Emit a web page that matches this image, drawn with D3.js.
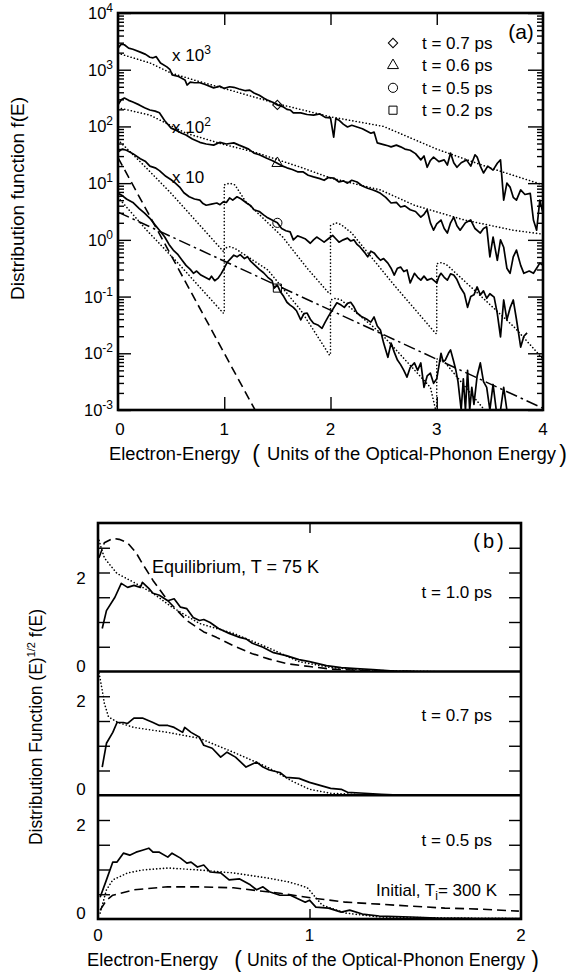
<!DOCTYPE html>
<html>
<head>
<meta charset="utf-8">
<script src="https://cdn.jsdelivr.net/npm/d3@7"></script>
<style>
body { margin: 0; background: #fff; }
svg text { font-family: "Liberation Sans", Arial, Helvetica, sans-serif; fill: #000; }
</style>
</head>
<body>
<svg id="fig" width="569" height="972"></svg>
<script>
// ---------- panel (a): [energy, log10 f(E)] ----------
var a07 = [[0,3.38],[0.03,3.45],[0.06,3.44],[0.1,3.38],[0.14,3.36],[0.21,3.31],[0.26,3.27],[0.3,3.22],[0.33,3.21],[0.36,3.23],[0.4,3.12],[0.46,3.05],[0.49,3.0],[0.51,2.91],[0.57,2.88],[0.63,2.82],[0.65,2.73],[0.68,2.78],[0.72,2.77],[0.77,2.77],[0.82,2.74],[0.9,2.68],[0.96,2.71],[1.0,2.67],[1.05,2.7],[1.09,2.69],[1.14,2.66],[1.2,2.63],[1.24,2.64],[1.28,2.59],[1.33,2.55],[1.37,2.5],[1.4,2.47],[1.45,2.43],[1.5,2.38],[1.55,2.35],[1.59,2.3],[1.62,2.29],[1.65,2.24],[1.72,2.24],[1.78,2.21],[1.84,2.2],[1.9,2.22],[1.95,2.16],[2.0,2.15],[2.03,1.81],[2.05,2.14],[2.08,2.11],[2.12,2.04],[2.16,1.99],[2.2,2.02],[2.25,1.99],[2.3,1.96],[2.34,1.92],[2.38,1.88],[2.41,1.9],[2.44,1.71],[2.5,1.68],[2.54,1.66],[2.57,1.64],[2.62,1.67],[2.66,1.64],[2.7,1.6],[2.75,1.58],[2.8,1.52],[2.85,1.41],[2.88,1.48],[2.91,1.28],[2.94,1.4],[2.97,1.46],[3.02,1.38],[3.07,1.41],[3.1,1.32],[3.13,1.53],[3.16,1.36],[3.19,1.28],[3.23,1.36],[3.28,1.41],[3.32,1.3],[3.36,1.5],[3.38,1.46],[3.41,1.3],[3.44,1.18],[3.48,1.3],[3.53,1.23],[3.57,1.35],[3.6,1.41],[3.63,0.7],[3.66,1.0],[3.69,0.93],[3.72,0.75],[3.75,0.7],[3.79,0.88],[3.83,0.8],[3.88,0.82],[3.91,0.35],[3.94,0.17],[3.97,0.7],[4.0,0.47]];
var a07fit = [[0,3.29],[0.3,3.12],[0.5,2.94],[0.75,2.8],[1.0,2.67],[1.5,2.4],[2.0,2.17],[2.5,2.0],[3.0,1.6],[3.5,1.27],[4.0,0.97]];

var a06 = [[0,2.38],[0.03,2.47],[0.06,2.5],[0.1,2.46],[0.14,2.43],[0.2,2.38],[0.25,2.33],[0.3,2.29],[0.35,2.27],[0.39,2.24],[0.44,2.1],[0.5,1.97],[0.55,1.93],[0.6,1.88],[0.64,1.85],[0.7,1.78],[0.77,1.72],[0.83,1.69],[0.9,1.67],[0.96,1.72],[1.02,1.69],[1.09,1.71],[1.14,1.67],[1.18,1.64],[1.23,1.6],[1.28,1.53],[1.33,1.5],[1.4,1.44],[1.45,1.4],[1.5,1.35],[1.55,1.3],[1.59,1.27],[1.64,1.24],[1.69,1.2],[1.74,1.2],[1.79,1.14],[1.84,1.11],[1.9,1.08],[1.94,1.05],[1.98,1.1],[2.03,1.09],[2.08,1.02],[2.12,1.04],[2.16,1.0],[2.2,1.05],[2.25,1.02],[2.3,0.95],[2.35,0.91],[2.4,0.88],[2.44,0.85],[2.47,0.82],[2.52,0.75],[2.57,0.65],[2.62,0.66],[2.66,0.58],[2.7,0.6],[2.75,0.53],[2.8,0.5],[2.85,0.4],[2.88,0.45],[2.91,0.53],[2.94,0.3],[2.97,0.17],[3.0,0.28],[3.04,0.35],[3.07,0.2],[3.1,0.12],[3.13,0.3],[3.16,0.4],[3.19,0.25],[3.22,0.17],[3.27,0.3],[3.32,0.35],[3.36,0.2],[3.41,0.12],[3.44,0.2],[3.47,0.23],[3.5,-0.3],[3.53,0.05],[3.57,-0.36],[3.6,0.0],[3.63,-0.13],[3.66,-0.5],[3.69,-0.59],[3.72,-0.3],[3.75,-0.18],[3.79,-0.45],[3.82,-0.59],[3.87,-0.55],[3.91,-0.59],[3.94,-0.5],[3.97,-0.41],[4.0,-0.45]];
var a06fit = [[0,2.33],[0.3,2.2],[0.64,1.88],[1.0,1.68],[1.28,1.55],[1.72,1.28],[2.0,1.09],[2.47,0.88],[2.79,0.61],[3.26,0.35],[3.72,0.17],[4.0,0.1]];

var a05 = [[0,1.55],[0.04,1.6],[0.08,1.58],[0.14,1.52],[0.21,1.43],[0.26,1.38],[0.3,1.3],[0.35,1.27],[0.39,1.22],[0.45,1.12],[0.5,1.06],[0.54,1.0],[0.58,0.93],[0.62,0.83],[0.67,0.76],[0.72,0.72],[0.77,0.7],[0.8,0.64],[0.83,0.61],[0.88,0.63],[0.93,0.65],[0.96,0.62],[0.99,0.67],[1.02,0.66],[1.05,0.74],[1.08,0.7],[1.12,0.76],[1.16,0.72],[1.21,0.65],[1.25,0.6],[1.28,0.53],[1.33,0.5],[1.37,0.44],[1.4,0.4],[1.45,0.35],[1.5,0.3],[1.54,0.2],[1.58,0.16],[1.62,0.14],[1.65,0.0],[1.69,0.07],[1.72,0.05],[1.76,0.02],[1.81,-0.06],[1.84,0.0],[1.87,0.05],[1.91,0.0],[1.94,-0.04],[1.98,0.02],[2.02,0.08],[2.05,0.02],[2.08,-0.04],[2.12,0.0],[2.16,0.03],[2.19,-0.02],[2.22,0.0],[2.25,-0.08],[2.28,-0.13],[2.32,-0.22],[2.35,-0.3],[2.38,-0.2],[2.41,-0.23],[2.44,-0.3],[2.47,-0.36],[2.5,-0.33],[2.54,-0.41],[2.57,-0.5],[2.6,-0.62],[2.63,-0.5],[2.66,-0.48],[2.69,-0.56],[2.72,-0.53],[2.75,-0.76],[2.79,-0.59],[2.82,-0.66],[2.85,-0.71],[2.88,-0.64],[2.91,-0.71],[2.95,-0.68],[3.0,-0.76],[3.02,-0.65],[3.04,-0.59],[3.07,-0.66],[3.1,-0.71],[3.13,-0.6],[3.16,-0.62],[3.19,-0.7],[3.22,-0.83],[3.26,-0.95],[3.29,-1.19],[3.32,-1.0],[3.35,-0.97],[3.38,-0.83],[3.41,-0.97],[3.44,-0.9],[3.47,-1.03],[3.5,-0.95],[3.54,-1.01],[3.57,-1.3],[3.6,-1.71],[3.63,-1.06],[3.66,-1.41],[3.69,-1.2],[3.72,-1.06],[3.75,-1.4],[3.79,-1.89],[3.82,-1.7],[3.85,-1.64]];
var a05fit = [[0,1.76],[0.1,1.58],[0.25,1.3],[0.5,0.82],[0.75,0.3],[0.99,-0.2],[1.0,-0.2],[1.0,0.97],[1.05,1.0],[1.1,0.97],[1.2,0.68],[1.55,0.05],[1.78,-0.5],[1.99,-0.95],[2.0,-0.95],[2.0,0.25],[2.05,0.3],[2.1,0.27],[2.2,0.12],[2.6,-0.8],[2.99,-1.65],[3.0,-1.65],[3.0,-0.42],[3.05,-0.4],[3.1,-0.45],[3.42,-1.0],[3.73,-1.54],[4.0,-2.1]];

var a02 = [[0,0.82],[0.04,0.78],[0.08,0.72],[0.14,0.66],[0.2,0.55],[0.25,0.47],[0.3,0.38],[0.35,0.26],[0.39,0.17],[0.44,0.05],[0.48,-0.08],[0.52,-0.18],[0.56,-0.25],[0.6,-0.35],[0.64,-0.45],[0.68,-0.52],[0.71,-0.59],[0.74,-0.55],[0.78,-0.62],[0.82,-0.66],[0.86,-0.7],[0.88,-0.64],[0.91,-0.72],[0.94,-0.68],[0.97,-0.6],[1.0,-0.5],[1.03,-0.39],[1.06,-0.33],[1.09,-0.27],[1.12,-0.3],[1.15,-0.26],[1.19,-0.33],[1.22,-0.3],[1.25,-0.38],[1.29,-0.45],[1.33,-0.52],[1.37,-0.58],[1.41,-0.66],[1.45,-0.72],[1.47,-0.85],[1.5,-0.8],[1.53,-0.92],[1.56,-1.0],[1.59,-1.1],[1.62,-1.15],[1.65,-1.19],[1.68,-1.25],[1.72,-1.41],[1.75,-1.3],[1.78,-1.29],[1.81,-1.4],[1.84,-1.47],[1.88,-1.5],[1.92,-1.56],[1.95,-1.45],[1.98,-1.35],[2.0,-1.29],[2.03,-1.2],[2.06,-1.11],[2.1,-1.15],[2.13,-1.19],[2.16,-1.12],[2.19,-1.1],[2.22,-1.18],[2.25,-1.29],[2.29,-1.35],[2.32,-1.38],[2.35,-1.41],[2.38,-1.45],[2.41,-1.36],[2.44,-1.52],[2.47,-1.59],[2.5,-1.82],[2.54,-2.07],[2.57,-1.82],[2.6,-1.98],[2.63,-2.12],[2.66,-2.2],[2.69,-2.3],[2.72,-2.42],[2.75,-2.25],[2.79,-2.17],[2.82,-2.3],[2.85,-2.17],[2.88,-2.6],[2.91,-2.4],[2.94,-2.35],[2.97,-2.53],[3.0,-2.45],[3.04,-2.0],[3.06,-2.15],[3.08,-2.12],[3.11,-2.0],[3.13,-1.94],[3.16,-2.15],[3.18,-2.3],[3.2,-2.5],[3.23,-3.0],[3.25,-2.45],[3.27,-3.0],[3.29,-2.3],[3.31,-3.0],[3.33,-2.6],[3.35,-2.9],[3.38,-2.4],[3.41,-2.17],[3.44,-2.5],[3.47,-2.6],[3.5,-3.0],[3.53,-2.55],[3.56,-3.0],[3.6,-3.0],[3.63,-2.6],[3.66,-3.0]];
var a02fit = [[0,0.75],[0.27,0.17],[0.56,-0.4],[0.99,-1.29],[1.0,-1.29],[1.0,-0.15],[1.05,-0.12],[1.1,-0.15],[1.41,-0.53],[1.72,-1.24],[1.99,-2.03],[2.0,-2.03],[2.0,-1.06],[2.05,-1.03],[2.1,-1.06],[2.47,-1.64],[2.94,-2.6],[2.99,-3.0],[3.0,-3.0],[3.0,-2.1],[3.05,-2.1],[3.45,-3.0]];

var aSteep = [[0,1.45],[1.29,-3.0]];      // dashed
var aSlow = [[0,0.49],[4,-2.97]];         // dash-dot

var legendLabels = ["t = 0.7 ps", "t = 0.6 ps", "t = 0.5 ps", "t = 0.2 ps"];
var legendShapes = ["diamond", "triangle", "circle", "square"];
var markerE = [1.5, 1.5, 1.5, 1.5];
var markerLog = [2.38, 1.35, 0.3, -0.85];
var scaleNotes = [["x 10", "3"], ["x 10", "2"], ["x 10", ""]];
var scaleNoteLog = [3.26, 1.99, 1.11];
var decadeTicks = [-3, -2, -1, 0, 1, 2, 3, 4];
var energyTicksA = [0, 1, 2, 3, 4];

// ---------- panel (b): [energy, (E)^1/2 f(E)] ----------
var b10Solid = [[0.02,0.87],[0.04,1.23],[0.08,1.5],[0.11,1.78],[0.14,1.7],[0.17,1.74],[0.2,1.7],[0.21,1.8],[0.24,1.68],[0.26,1.58],[0.29,1.54],[0.33,1.43],[0.36,1.47],[0.39,1.3],[0.42,1.27],[0.45,1.09],[0.48,1.03],[0.5,1.05],[0.53,0.99],[0.57,0.87],[0.62,0.77],[0.67,0.69],[0.7,0.66],[0.73,0.57],[0.78,0.49],[0.83,0.38],[0.89,0.32],[0.95,0.24],[1.0,0.2],[1.08,0.12],[1.15,0.08],[1.22,0.06],[1.3,0.04],[1.4,0.01],[1.5,0.0]];
var b10Dotted = [[0.005,2.65],[0.015,2.5],[0.03,2.3],[0.04,2.24],[0.09,1.98],[0.17,1.8],[0.26,1.58],[0.35,1.3],[0.48,0.97],[0.64,0.77],[0.8,0.49],[0.95,0.2],[1.1,0.08],[1.25,0.03],[1.4,0.01],[1.6,0.0]];
var b10Dashed = [[0.005,2.3],[0.03,2.6],[0.07,2.69],[0.1,2.67],[0.14,2.6],[0.18,2.4],[0.21,2.18],[0.26,1.84],[0.33,1.43],[0.42,1.03],[0.5,0.8],[0.56,0.69],[0.65,0.5],[0.73,0.36],[0.81,0.25],[0.89,0.16],[1.0,0.1],[1.1,0.05],[1.2,0.03],[1.35,0.01],[1.5,0.0]];

var b07Solid = [[0.02,0.57],[0.04,1.05],[0.07,1.27],[0.09,1.47],[0.12,1.47],[0.14,1.45],[0.17,1.56],[0.21,1.56],[0.26,1.47],[0.29,1.41],[0.33,1.41],[0.36,1.37],[0.4,1.27],[0.41,1.37],[0.44,1.27],[0.48,1.17],[0.5,1.01],[0.54,0.95],[0.58,0.77],[0.61,0.87],[0.65,0.77],[0.7,0.57],[0.75,0.67],[0.78,0.57],[0.81,0.51],[0.86,0.46],[0.89,0.36],[0.95,0.34],[1.0,0.26],[1.05,0.2],[1.1,0.14],[1.15,0.12],[1.18,0.06],[1.26,0.04],[1.34,0.02],[1.45,0.0]];
var b07Dotted = [[0.005,2.47],[0.02,2.12],[0.03,1.86],[0.05,1.58],[0.095,1.47],[0.17,1.37],[0.33,1.27],[0.48,1.15],[0.64,0.87],[0.8,0.57],[0.92,0.28],[1.0,0.12],[1.1,0.04],[1.25,0.01],[1.4,0.0]];

var b05Solid = [[0.01,0.44],[0.04,0.79],[0.07,1.15],[0.09,1.15],[0.12,1.33],[0.15,1.29],[0.18,1.35],[0.21,1.39],[0.24,1.43],[0.26,1.35],[0.29,1.35],[0.33,1.25],[0.35,1.33],[0.39,1.23],[0.42,1.13],[0.44,1.15],[0.47,1.05],[0.5,1.09],[0.53,0.95],[0.58,0.93],[0.62,0.79],[0.67,0.81],[0.72,0.69],[0.75,0.59],[0.78,0.65],[0.81,0.55],[0.86,0.48],[0.91,0.48],[0.95,0.4],[0.98,0.34],[1.0,0.38],[1.03,0.24],[1.09,0.22],[1.15,0.14],[1.19,0.18],[1.25,0.1],[1.33,0.06],[1.48,0.04],[1.6,0.02],[1.8,0.01],[2.0,0.01]];
var b05Dotted = [[0.01,0.12],[0.04,0.59],[0.07,0.79],[0.14,0.93],[0.21,0.99],[0.33,1.03],[0.48,0.99],[0.64,0.93],[0.8,0.83],[0.9,0.75],[0.95,0.69],[0.99,0.63],[1.02,0.48],[1.06,0.28],[1.17,0.12],[1.33,0.04],[1.65,0.02],[2.0,0.01]];
var b05Dashed = [[0.01,0.18],[0.04,0.38],[0.07,0.48],[0.17,0.59],[0.33,0.65],[0.48,0.65],[0.64,0.63],[0.8,0.55],[0.86,0.52],[1.02,0.42],[1.17,0.34],[1.33,0.3],[1.48,0.26],[1.64,0.22],[1.8,0.2],[1.99,0.16]];

var bMax = [3, 2.5, 2.5];
var bTimes = ["t = 1.0 ps", "t = 0.7 ps", "t = 0.5 ps"];
var energyTicksB = [0, 1, 2];

// ---------- drawing ----------
var svg = d3.select("#fig");
var defs = svg.append("defs");

function styleKind(sel, kind) {
  sel.attr("fill", "none").attr("stroke", "#000").attr("stroke-linejoin", "round");
  if (kind === "solid") sel.attr("stroke-width", 1.7);
  if (kind === "dotted") sel.attr("stroke-width", 1.6).attr("stroke-linecap", "round").attr("stroke-dasharray", "0.1,3.3");
  if (kind === "dashed") sel.attr("stroke-width", 1.6).attr("stroke-dasharray", "9,5");
  if (kind === "dashdot") sel.attr("stroke-width", 1.5).attr("stroke-dasharray", "12,4,2.5,4");
  return sel;
}

function markerPath(shape) {
  if (shape === "diamond") return d3.symbol(d3.symbolSquare, 44)();
  if (shape === "triangle") return d3.symbol(d3.symbolTriangle, 52)();
  if (shape === "circle") return d3.symbol(d3.symbolCircle, 66)();
  return d3.symbol(d3.symbolSquare, 66)();
}

// ===== panel (a) =====
var pa = {left: 118, right: 543, top: 13, bottom: 410};
var xA = d3.scaleLinear().domain([0, 4]).range([pa.left, pa.right]);
var yA = d3.scaleLog().domain([1e-3, 1e4]).range([pa.bottom, pa.top]);
var lineA = d3.line().x(function(d) { return xA(d[0]); }).y(function(d) { return yA(Math.pow(10, d[1])); });

defs.append("clipPath").attr("id", "clipA").append("rect")
  .attr("x", pa.left).attr("y", pa.top).attr("width", pa.right - pa.left).attr("height", pa.bottom - pa.top);

var gA = svg.append("g");
var curvesA = gA.append("g").attr("clip-path", "url(#clipA)");

[[a07, "solid"], [a07fit, "dotted"], [a06, "solid"], [a06fit, "dotted"],
 [a05, "solid"], [a05fit, "dotted"], [a02, "solid"], [a02fit, "dotted"],
 [aSteep, "dashed"], [aSlow, "dashdot"]].forEach(function(c) {
  styleKind(curvesA.append("path").datum(c[0]).attr("d", lineA), c[1]);
});

// markers on the curves
legendShapes.forEach(function(s, i) {
  gA.append("path").attr("d", markerPath(s))
    .attr("transform", "translate(" + xA(markerE[i]) + "," + yA(Math.pow(10, markerLog[i])) + ")" + (s === "diamond" ? " rotate(45)" : ""))
    .attr("fill", "none").attr("stroke", "#000").attr("stroke-width", 1);
});

// axes (inward ticks)
function noDomain(g) { g.select(".domain").remove(); g.selectAll("line").attr("stroke-width", 1.4); }
var majors = decadeTicks.map(function(d) { return Math.pow(10, d); });
var minors = yA.ticks().filter(function(v) { return Math.abs(Math.log10(v) - Math.round(Math.log10(v))) > 1e-6; });

gA.append("g").attr("transform", "translate(" + pa.left + ",0)")
  .call(d3.axisRight(yA).tickValues(majors).tickSize(13).tickSizeOuter(0).tickFormat("")).call(noDomain);
gA.append("g").attr("transform", "translate(" + pa.left + ",0)")
  .call(d3.axisRight(yA).tickValues(minors).tickSize(6).tickSizeOuter(0).tickFormat("")).call(noDomain);
gA.append("g").attr("transform", "translate(" + pa.right + ",0)")
  .call(d3.axisLeft(yA).tickValues(majors).tickSize(15).tickSizeOuter(0).tickFormat("")).call(noDomain);
gA.append("g").attr("transform", "translate(" + pa.right + ",0)")
  .call(d3.axisLeft(yA).tickValues(minors).tickSize(6).tickSizeOuter(0).tickFormat("")).call(noDomain);
gA.append("g").attr("transform", "translate(0," + pa.top + ")")
  .call(d3.axisBottom(xA).tickValues([1, 2, 3]).tickSize(12).tickSizeOuter(0).tickFormat("")).call(noDomain);
gA.append("g").attr("transform", "translate(0," + pa.bottom + ")")
  .call(d3.axisTop(xA).tickValues([1, 2, 3]).tickSize(13).tickSizeOuter(0).tickFormat("")).call(noDomain);

gA.append("rect").attr("x", pa.left).attr("y", pa.top)
  .attr("width", pa.right - pa.left).attr("height", pa.bottom - pa.top)
  .attr("fill", "none").attr("stroke", "#000").attr("stroke-width", 2.6);

// y tick labels 10^n
decadeTicks.forEach(function(d) {
  var t = gA.append("text").attr("x", pa.left - 5).attr("y", yA(Math.pow(10, d)) + 6)
    .attr("text-anchor", "end").attr("font-size", 16.5);
  t.append("tspan").text("10");
  t.append("tspan").attr("dy", -7).attr("font-size", 12).text(d < 0 ? "-" + (-d) : String(d));
});

// x tick labels
energyTicksA.forEach(function(e) {
  gA.append("text").attr("x", xA(e) + (e === 0 ? 2 : 0)).attr("y", 435)
    .attr("text-anchor", "middle").attr("font-size", 17).text(e);
});

// axis titles
gA.append("text").attr("x", 109).attr("y", 460).attr("font-size", 18)
  .attr("textLength", 131).attr("lengthAdjust", "spacingAndGlyphs").text("Electron-Energy");
gA.append("text").attr("x", 256).attr("y", 462).attr("text-anchor", "middle").attr("font-size", 23).text("(");
gA.append("text").attr("x", 267).attr("y", 460).attr("font-size", 18)
  .attr("textLength", 289).attr("lengthAdjust", "spacingAndGlyphs").text("Units of the Optical-Phonon Energy");
gA.append("text").attr("x", 563).attr("y", 462).attr("text-anchor", "middle").attr("font-size", 23).text(")");

gA.append("text").attr("transform", "translate(24,198.5) rotate(-90)")
  .attr("text-anchor", "middle").attr("font-size", 18.5)
  .attr("textLength", 203).attr("lengthAdjust", "spacingAndGlyphs").text("Distribution function f(E)");

// scale notes
scaleNotes.forEach(function(n, i) {
  var t = gA.append("text").attr("x", 172).attr("y", yA(Math.pow(10, scaleNoteLog[i])) + 6).attr("font-size", 17);
  t.append("tspan").text(n[0]);
  if (n[1]) t.append("tspan").attr("dy", -7).attr("font-size", 12).text(n[1]);
});

// legend
legendLabels.forEach(function(l, i) {
  var yy = 43 + i * 22.4;
  var s = legendShapes[i];
  gA.append("path").attr("d", markerPath(s))
    .attr("transform", "translate(393," + yy + ")" + (s === "diamond" ? " rotate(45)" : ""))
    .attr("fill", "none").attr("stroke", "#000").attr("stroke-width", 1);
  gA.append("text").attr("x", 422).attr("y", yy + 6).attr("font-size", 17).text(l);
});
gA.append("text").attr("x", 521).attr("y", 39).attr("text-anchor", "middle")
  .attr("font-size", 21).attr("font-family", "DejaVu Sans").text("(a)");

// ===== panel (b) =====
var pb = {left: 98, right: 521, top: 523, bottom: 919};
var xB = d3.scaleLinear().domain([0, 2]).range([pb.left, pb.right]);
var pxUnit = (pb.bottom - pb.top) / d3.sum(bMax);
var bTops = [pb.top];
bMax.forEach(function(m, i) { bTops.push(bTops[i] + m * pxUnit); });

var bCurves = [
  [[b10Solid, "solid"], [b10Dotted, "dotted"], [b10Dashed, "dashed"]],
  [[b07Solid, "solid"], [b07Dotted, "dotted"]],
  [[b05Solid, "solid"], [b05Dotted, "dotted"], [b05Dashed, "dashed"]]
];
var timeLabelY = [592, 715, 840];
var gB = svg.append("g");

bMax.forEach(function(m, i) {
  var yB = d3.scaleLinear().domain([0, m]).range([bTops[i + 1], bTops[i]]);
  var lineB = d3.line().x(function(d) { return xB(d[0]); }).y(function(d) { return yB(d[1]); });
  var cid = "clipB" + i;
  defs.append("clipPath").attr("id", cid).append("rect")
    .attr("x", pb.left).attr("y", bTops[i]).attr("width", pb.right - pb.left).attr("height", bTops[i + 1] - bTops[i]);
  var gc = gB.append("g").attr("clip-path", "url(#" + cid + ")");
  bCurves[i].forEach(function(c) {
    styleKind(gc.append("path").datum(c[0]).attr("d", lineB), c[1]);
  });

  var tv = d3.range(0.5, m, 0.5);
  gB.append("g").attr("transform", "translate(" + pb.left + ",0)")
    .call(d3.axisRight(yB).tickValues(tv).tickSize(12).tickSizeOuter(0).tickFormat("")).call(noDomain);
  gB.append("g").attr("transform", "translate(" + pb.right + ",0)")
    .call(d3.axisLeft(yB).tickValues(tv).tickSize(12).tickSizeOuter(0).tickFormat("")).call(noDomain);

  gB.append("text").attr("x", 81).attr("y", yB(2) + 11).attr("text-anchor", "middle").attr("font-size", 17).text("2");
  gB.append("text").attr("x", 81).attr("y", yB(0)).attr("text-anchor", "middle").attr("font-size", 17).text("0");

  gB.append("text").attr("x", 492).attr("y", timeLabelY[i] + 6).attr("text-anchor", "end").attr("font-size", 17).text(bTimes[i]);
  if (i > 0) {
    gB.append("line").attr("x1", pb.left).attr("x2", pb.right).attr("y1", bTops[i]).attr("y2", bTops[i])
      .attr("stroke", "#000").attr("stroke-width", 2.6);
  }
});

gB.append("g").attr("transform", "translate(0," + pb.top + ")")
  .call(d3.axisBottom(xB).tickValues([1]).tickSize(10).tickSizeOuter(0).tickFormat("")).call(noDomain);
gB.append("g").attr("transform", "translate(0," + pb.bottom + ")")
  .call(d3.axisTop(xB).tickValues([1]).tickSize(10).tickSizeOuter(0).tickFormat("")).call(noDomain);
gB.append("rect").attr("x", pb.left).attr("y", pb.top)
  .attr("width", pb.right - pb.left).attr("height", pb.bottom - pb.top)
  .attr("fill", "none").attr("stroke", "#000").attr("stroke-width", 2.6);

energyTicksB.forEach(function(e) {
  gB.append("text").attr("x", xB(e)).attr("y", 941).attr("text-anchor", "middle").attr("font-size", 17).text(e);
});

gB.append("text").attr("x", 152).attr("y", 573).attr("font-size", 18).text("Equilibrium, T = 75 K");
var tInit = gB.append("text").attr("x", 497).attr("y", 896).attr("text-anchor", "end").attr("font-size", 17);
tInit.append("tspan").text("Initial, T");
tInit.append("tspan").attr("dy", 4).attr("font-size", 12).text("i");
tInit.append("tspan").attr("dy", -4).text("= 300 K");
gB.append("text").attr("x", 490).attr("y", 548).attr("text-anchor", "middle")
  .attr("font-size", 20).attr("letter-spacing", 3).attr("font-family", "DejaVu Sans").text("(b)");

gB.append("text").attr("x", 87).attr("y", 966).attr("font-size", 18)
  .attr("textLength", 131).attr("lengthAdjust", "spacingAndGlyphs").text("Electron-Energy");
gB.append("text").attr("x", 238).attr("y", 968).attr("text-anchor", "middle").attr("font-size", 23).text("(");
gB.append("text").attr("x", 247).attr("y", 966).attr("font-size", 18)
  .attr("textLength", 278).attr("lengthAdjust", "spacingAndGlyphs").text("Units of the Optical-Phonon Energy");
gB.append("text").attr("x", 535).attr("y", 968).attr("text-anchor", "middle").attr("font-size", 23).text(")");

var tyB = gB.append("text").attr("transform", "translate(42,727) rotate(-90)")
  .attr("text-anchor", "middle").attr("font-size", 17.5);
tyB.append("tspan").text("Distribution Function (E)");
tyB.append("tspan").attr("dy", -7).attr("font-size", 11).text("1/2");
tyB.append("tspan").attr("dy", 7).text(" f(E)");
</script>
</body>
</html>
